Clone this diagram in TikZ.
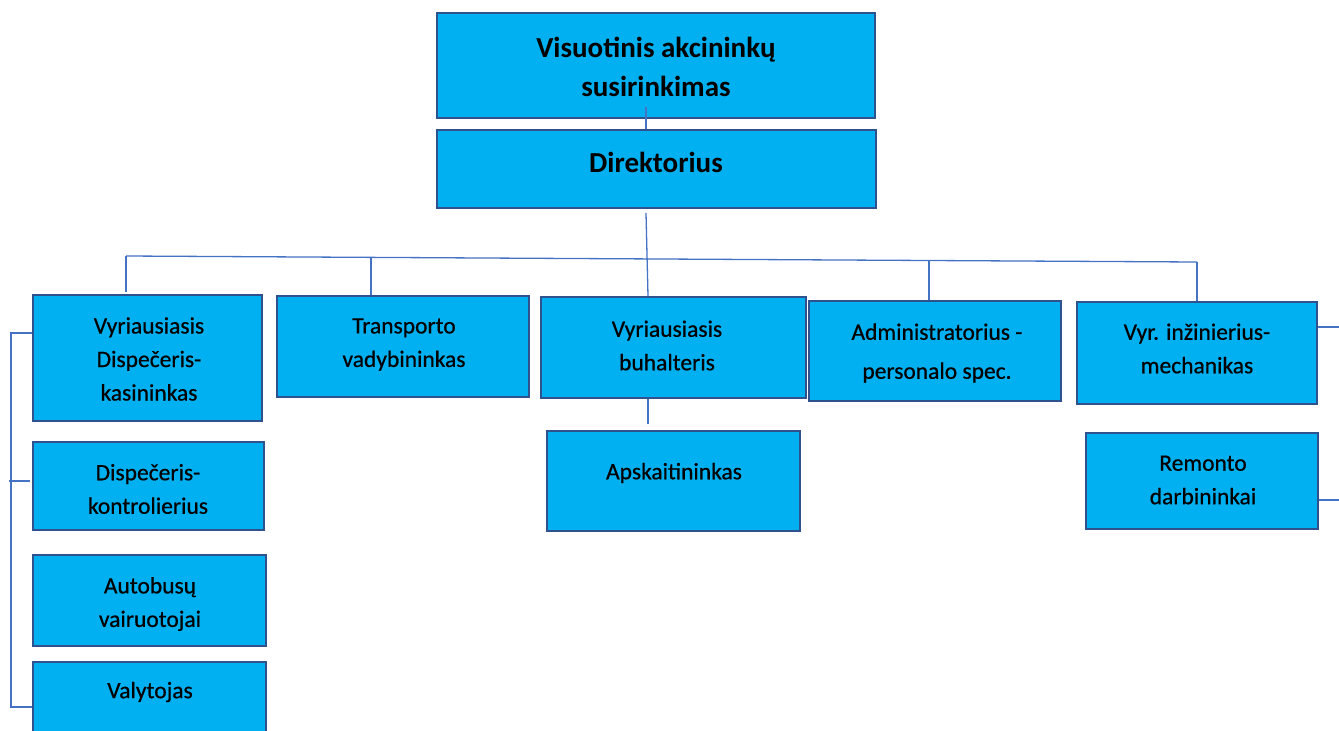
\documentclass[tikz,border=0pt]{standalone}
\usepackage{fontspec}
\setmainfont{Carlito}
\newfontfamily\bodyfont[FakeBold=0.6]{Carlito}
\definecolor{boxfill}{HTML}{00B0F0}
\definecolor{boxline}{HTML}{2F528F}
\definecolor{connline}{HTML}{4472C4}
\begin{document}
\begin{tikzpicture}[x=1pt,y=-1pt,
  box/.style={draw=boxline, line width=2.4pt, fill=boxfill, inner sep=0pt},
  lbl/.style={align=center, text=black, inner sep=0pt, font=\bodyfont\fontsize{23.5}{33.5}\selectfont},
  toplbl/.style={align=center, text=black, inner sep=0pt, font=\fontsize{29}{39}\selectfont\bfseries},
  conn/.style={draw=connline, line width=1.3pt}]
\useasboundingbox (0,0) rectangle (1339,731);
% boxes
\node[box, minimum width=438pt, minimum height=105pt] (vas) at (656,65.5) {};
\node[box, minimum width=439pt, minimum height=78pt] (dir) at (656.5,169) {};
\node[box, minimum width=229pt, minimum height=126pt] (vdk) at (147.5,358) {};
\node[box, minimum width=252pt, minimum height=101pt] (tv) at (403,346.5) {};
\node[box, minimum width=265pt, minimum height=101pt] (vb) at (673.5,347.5) {};
\node[box, minimum width=252pt, minimum height=100pt] (adm) at (935,351) {};
\node[box, minimum width=240pt, minimum height=102pt] (vim) at (1197,353) {};
\node[box, minimum width=232pt, minimum height=96pt] (rd) at (1202,481) {};
\node[box, minimum width=253pt, minimum height=100pt] (aps) at (673.5,481) {};
\node[box, minimum width=231pt, minimum height=88pt] (dk) at (148.5,486) {};
\node[box, minimum width=233pt, minimum height=91pt] (av) at (149.5,600.5) {};
\node[box, minimum width=233pt, minimum height=88pt] (val) at (149.5,706) {};
% texts
\node[toplbl] (tvas) at (656,66.5) {Visuotinis akcininkų\\susirinkimas};
\node[toplbl] (tdir) at (656,162) {Direktorius};
\node[lbl] (tvdk) at (149,359) {Vyriausiasis\\Dispečeris-\\kasininkas};
\node[lbl] (ttv) at (404,344.5) {Transporto\\vadybininkas};
\node[lbl] (tvb) at (667,345.5) {Vyriausiasis\\buhalteris};
\node[lbl, font=\bodyfont\fontsize{23.5}{39}\selectfont] (tadm) at (937,353) {Administratorius -\\personalo spec.};
\node[lbl] (tvim) at (1197,348.5) {Vyr. inžinierius-\\mechanikas};
\node[lbl] (trd) at (1203,480) {Remonto\\darbininkai};
\node[lbl] (taps) at (674,473) {Apskaitininkas};
\node[lbl] (tdk) at (148,489) {Dispečeris-\\kontrolierius};
\node[lbl] (tav) at (150,604) {Autobusų\\vairuotojai};
\node[lbl] (tval) at (150,692) {Valytojas};
% connectors
\coordinate (hl) at (126,256);
\coordinate (hr) at (1197,262);
\draw[conn] (646,107) -- (646,0 |- dir.north);
\draw[conn] (646,213) -- (648,0 |- vb.north);
\draw[conn] (hl) -- (hr);
\draw[conn] (hl) -- (126,292);
\draw[conn] (371,257) -- (371,0 |- tv.north);
\draw[conn] (929,261) -- (929,0 |- adm.north);
\draw[conn] (hr) -- (hr |- vim.north);
\draw[conn] (648,0 |- vb.south) -- (648,424);
\draw[conn] (vim.east |- 0,327) -- (1339,327);
\draw[conn] (rd.east |- 0,500) -- (1339,500);
\draw[conn] (vdk.west |- 0,333) -- (11,333) -- (11,707) -- (val.west |- 0,707);
\draw[conn] (9,481) -- (30,481);
\end{tikzpicture}
\end{document}
